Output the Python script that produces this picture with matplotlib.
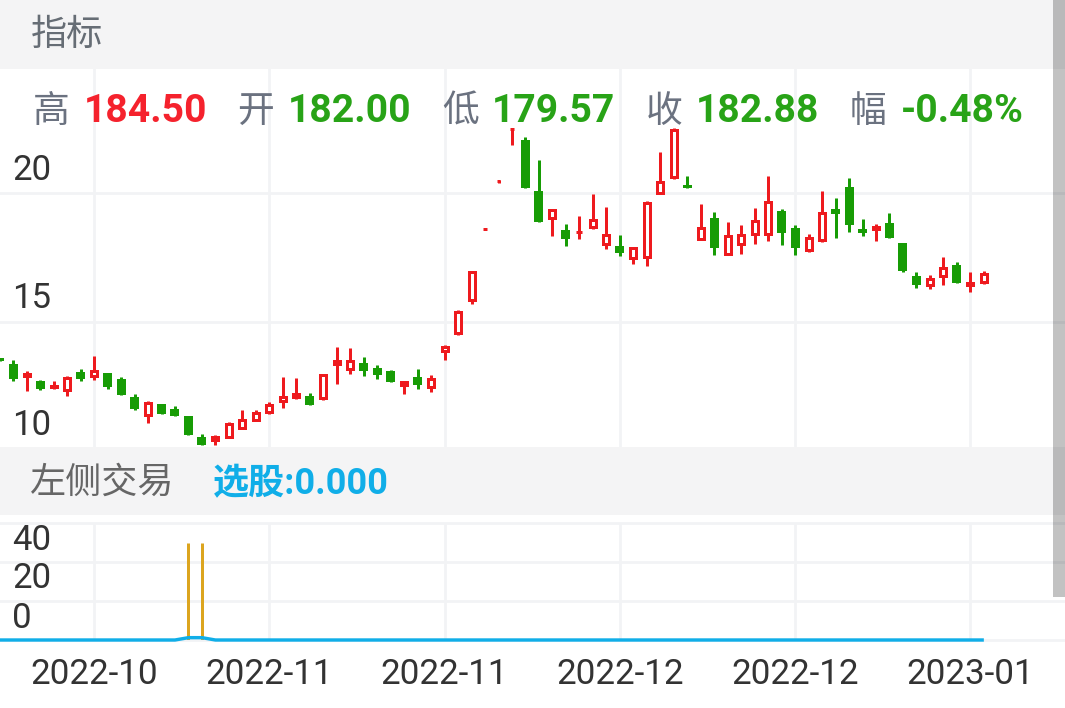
import matplotlib
matplotlib.use('Agg')
import matplotlib.pyplot as plt
from matplotlib.patches import Rectangle
import numpy as np

W, H = 1065, 708

# daily candles, left to right
opens = [13.62, 13.37, 12.86, 12.74, 12.43, 12.32, 13.08, 12.87, 13.03, 12.82,
         12.11, 11.35, 11.84, 11.65, 11.37, 10.55, 10.38, 10.51, 10.86, 11.17,
         11.47, 11.89, 12.04, 12.15, 12.01, 13.34, 13.13, 13.43, 13.22, 13.12,
         12.53, 12.87, 12.42, 13.82, 14.51, 15.79, 18.56, 20.40, 22.41, 22.04,
         20.08, 18.97, 18.58, 18.43, 18.62, 17.96, 17.95, 17.44, 17.47, 19.95,
         20.58, 20.30, 18.18, 19.03, 17.59, 17.98, 18.35, 18.37, 19.29, 18.63,
         17.73, 18.11, 19.39, 20.23, 18.61, 18.54, 18.85, 18.05, 16.80, 16.37,
         16.72, 17.22, 16.39, 16.49]
closes = [13.51, 12.79, 13.04, 12.41, 12.61, 12.92, 12.81, 13.18, 12.51, 12.20,
          11.66, 11.94, 11.45, 11.39, 10.63, 10.25, 10.63, 11.13, 11.26, 11.56,
          11.84, 12.15, 12.29, 11.81, 13.00, 13.57, 13.57, 13.12, 12.97, 12.69,
          12.74, 12.59, 12.85, 14.11, 15.47, 16.99, 18.66, 20.49, 22.51, 20.21,
          18.89, 19.39, 18.22, 18.56, 19.03, 18.42, 17.69, 17.92, 19.69, 20.48,
          22.50, 20.19, 18.70, 17.86, 18.39, 18.42, 18.97, 19.73, 18.45, 17.87,
          18.32, 19.28, 19.17, 18.76, 18.45, 18.76, 18.26, 16.99, 16.44, 16.75,
          17.15, 16.51, 16.58, 16.92]
highs = [13.62, 13.54, 13.10, 12.77, 12.72, 12.92, 13.18, 13.71, 13.03, 12.87,
         12.22, 11.94, 11.84, 11.76, 11.37, 10.68, 10.63, 11.13, 11.60, 11.61,
         11.92, 12.88, 12.86, 12.25, 13.00, 14.06, 13.99, 13.65, 13.35, 13.15,
         12.74, 13.18, 12.95, 14.11, 15.47, 16.99, 18.66, 20.49, 22.51, 22.16,
         21.27, 19.39, 18.80, 19.10, 19.95, 19.47, 18.39, 17.92, 19.69, 21.57,
         22.50, 20.67, 19.59, 19.27, 18.88, 18.77, 19.41, 20.66, 19.37, 18.77,
         18.40, 20.08, 19.80, 20.57, 18.98, 18.80, 19.23, 18.05, 16.93, 16.82,
         17.51, 17.32, 16.93, 16.97]
lows = [13.51, 12.74, 12.35, 12.39, 12.43, 12.16, 12.74, 12.78, 12.42, 12.20,
        11.61, 11.12, 11.45, 11.39, 10.63, 10.25, 10.27, 10.51, 10.86, 11.17,
        11.47, 11.67, 12.04, 11.81, 12.01, 12.60, 13.00, 12.93, 12.81, 12.69,
        12.24, 12.43, 12.30, 13.54, 14.51, 15.71, 18.56, 20.40, 21.85, 20.21,
        18.89, 18.35, 17.94, 18.21, 18.62, 17.82, 17.56, 17.27, 17.19, 19.95,
        20.55, 20.19, 18.18, 17.60, 17.59, 17.65, 18.04, 18.16, 18.00, 17.60,
        17.73, 18.11, 18.25, 18.50, 18.34, 18.13, 18.26, 16.94, 16.33, 16.27,
        16.44, 16.51, 16.17, 16.49]

# these three days have very short bodies, drawn narrower in the app
narrow_days = [36, 37, 38]

# lower panel: signal spikes and the blue indicator line
signal_days = [14, 15]
signal_values = [50, 50]
line_values = [0] * 14 + [1.2, 1.2] + [0] * 58

tick_days = [7, 20, 33, 46, 59, 72]
tick_labels = ['2022-10', '2022-11', '2022-11', '2022-12', '2022-12', '2023-01']

RED = '#ee1a1e'
GREEN = '#179c05'
BLUE = '#10aee8'
GRID = '#f2f3f5'
px = 0.72  # one pixel in points at dpi 100

fig = plt.figure(figsize=(W / 100, H / 100), dpi=100)


def axes_px(top, bottom):
    return fig.add_axes([0, 1 - bottom / H, 1, (bottom - top) / H])


def style_axes(ax):
    ax.patch.set_alpha(0)
    for spine in ax.spines.values():
        spine.set_visible(False)
    ax.set_xlim(0.02, 79.02)
    ax.set_xticks(tick_days)
    ax.grid(True, color=GRID, linewidth=2.7 * px)
    ax.set_axisbelow(True)
    ax.tick_params(length=0)
    ax.set_yticklabels([])


def y_label(ax, text, value, up):
    ax.annotate(text, xy=(0, value), xycoords=ax.get_yaxis_transform(),
                xytext=(12 * px, up * px), textcoords='offset points',
                fontsize=25, family='Roboto', color='#333333',
                va='baseline', ha='left', annotation_clip=False, zorder=1)


# price panel
ax = axes_px(68.5, 447)
ax.set_yticks([10, 15, 20])
style_axes(ax)
ax.set_ylim(27.466 - 0.03868 * 447, 27.466 - 0.03868 * 68.5)
ax.set_xticklabels([])
for text, value, up in [('10', 10, 17), ('15', 15, 14), ('20', 20, 13)]:
    y_label(ax, text, value, up)

days = np.arange(len(opens))
opens_a, closes_a = np.array(opens), np.array(closes)
rising = closes_a >= opens_a
colors = [RED if r else GREEN for r in rising]
ax.vlines(days, lows, highs, colors=colors, linewidth=3 * px, zorder=3)

# the body stroke is centred on the rectangle edge, so pull it in by half a stroke
stroke = 3
inset = 0.03868 * stroke / 2
body_low = opens_a[rising] + inset
body_height = np.maximum(closes_a[rising] - opens_a[rising] - 2 * inset, 0)
body_width = np.where(np.isin(days[rising], narrow_days), 0.25, 0.45)
ax.bar(days[rising], body_height, bottom=body_low, width=body_width,
       facecolor='white', edgecolor=RED, linewidth=stroke * px, zorder=4)
ax.bar(days[~rising], (opens_a - closes_a)[~rising], bottom=closes_a[~rising], width=0.67,
       color=GREEN, linewidth=0, zorder=4)

# signal panel
ax2 = axes_px(523, 640)
ax2.set_yticks([0, 20, 40, 60])
style_axes(ax2)
ax2.set_ylim(0, 60)
for gl in ax2.get_ygridlines():
    gl.set_clip_on(False)
ax2.set_xticklabels(tick_labels, fontsize=25.2, family='Roboto', color='#333333')
ax2.tick_params(axis='x', pad=18.5 * px)
for text, value in [('0', 0), ('20', 20), ('40', 40)]:
    y_label(ax2, text, value, 12.5)
ax2.vlines(signal_days, 0, signal_values, colors='#dca51f', linewidth=3 * px, zorder=3)
ax2.plot(days, line_values, color=BLUE, linewidth=3.4 * px, clip_on=False, zorder=4,
         solid_capstyle='butt')

# header bars and scrollbar
for top, bottom in [(0, 68.5), (447, 515)]:
    fig.add_artist(Rectangle((0, 1 - bottom / H), 1, (bottom - top) / H,
                             transform=fig.transFigure, facecolor='#f4f4f5',
                             edgecolor='none', zorder=5))
fig.add_artist(Rectangle((1052.5 / W, 1 - 597 / H), 12.5 / W, 597 / H,
                         transform=fig.transFigure, facecolor='black', alpha=0.24,
                         edgecolor='none', zorder=7))


def label(x, y, text, color, size=26, bold=False):
    fig.text(x / W, 1 - y / H, text, color=color, fontsize=size, va='baseline', ha='left',
             family=['Roboto', 'Noto Sans CJK SC'], fontweight='bold' if bold else 'normal',
             zorder=6)


label(31, 45, '指标', '#666d75')
label(30, 493, '左侧交易', '#666666')
label(213, 494, '选股:0.000', BLUE, bold=True)

GREY = '#6b7280'
TEXT_RED = '#f5222d'
TEXT_GREEN = '#28a317'
for x, name in [(33, '高'), (237, '开'), (442, '低'), (646, '收'), (850, '幅')]:
    label(x, 122, name, GREY, size=26.5)
for x, value, color in [(84, '184.50', TEXT_RED), (288, '182.00', TEXT_GREEN),
                        (492, '179.57', TEXT_GREEN), (696, '182.88', TEXT_GREEN),
                        (901, '-0.48%', TEXT_GREEN)]:
    label(x, 122, value, color, size=28.2, bold=True)

fig.savefig('out.png', dpi=100)
